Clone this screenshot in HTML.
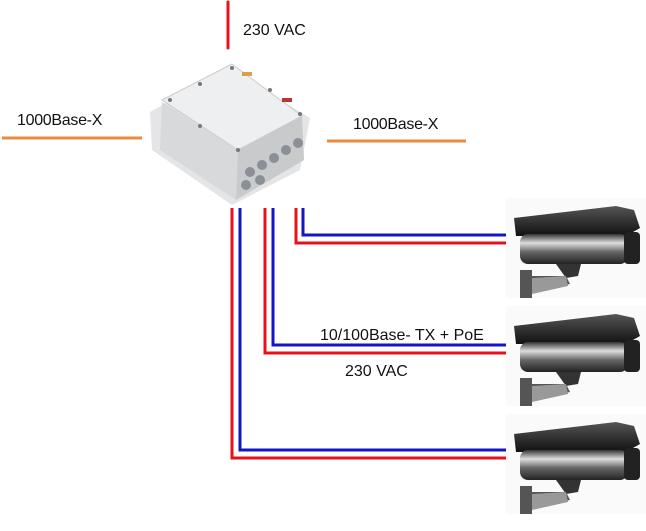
<!DOCTYPE html>
<html><head><style>
body{margin:0;background:#fff;width:646px;height:526px;overflow:hidden}
svg text{font-family:"Liberation Sans",Arial,sans-serif;font-size:16px;fill:#111}
</style></head><body>
<svg width="646" height="526" viewBox="0 0 646 526">
<defs>
<linearGradient id="cyl" x1="0" y1="0" x2="0" y2="1">
<stop offset="0" stop-color="#333"/><stop offset="0.3" stop-color="#ddd"/><stop offset="0.6" stop-color="#666"/><stop offset="1" stop-color="#222"/>
</linearGradient>
<linearGradient id="hood" x1="0" y1="0" x2="0" y2="1">
<stop offset="0" stop-color="#555"/><stop offset="1" stop-color="#111"/>
</linearGradient>
<g id="cam">
<rect x="0" y="0" width="140" height="100" fill="#fafafa"/>
<polygon points="8,20 110,8 128,12 134,30 120,38 10,38" fill="url(#hood)"/>
<rect x="14" y="36" width="108" height="30" rx="8" fill="url(#cyl)"/>
<rect x="118" y="34" width="16" height="32" rx="4" fill="#222"/>
<polygon points="50,66 75,66 72,78 60,80" fill="#333"/>
<polygon points="14,72 26,72 26,78 60,78 64,86 26,94 26,100 14,100" fill="#555"/>
<polygon points="26,80 60,78 62,88 26,96" fill="#999"/>
</g>
</defs>
<line x1="228" y1="2" x2="228" y2="48" stroke="#e8101a" stroke-width="3" stroke-linecap="round"/>
<text x="243" y="35">230 VAC</text>
<line x1="2" y1="138" x2="142" y2="138" stroke="#ec8a3c" stroke-width="3"/>
<line x1="327" y1="141" x2="466" y2="141" stroke="#ec8a3c" stroke-width="3"/>
<text x="17" y="125" letter-spacing="-0.3">1000Base-X</text>
<text x="353" y="129" letter-spacing="-0.3">1000Base-X</text>
<polygon points="150,112 228,68 310,118 300,170 232,205 152,150" fill="#e4e5e7"/>
<polygon points="162,100 232,64 302,116 238,150" fill="#eeeff1" stroke="#ccc"/>
<polygon points="162,102 238,150 236,200 160,150" fill="#d8d9db"/>
<polygon points="238,150 302,116 304,160 236,200" fill="#c9cacc"/>
<g fill="#777">
<circle cx="170" cy="100" r="2"/><circle cx="200" cy="84" r="2"/><circle cx="232" cy="68" r="2"/><circle cx="270" cy="90" r="2"/><circle cx="300" cy="114" r="2"/><circle cx="238" cy="150" r="2"/><circle cx="200" cy="126" r="2"/>
</g>
<g fill="#8a9096">
<circle cx="250" cy="172" r="5"/><circle cx="262" cy="165" r="5"/><circle cx="274" cy="158" r="5"/><circle cx="286" cy="150" r="5"/><circle cx="298" cy="143" r="5"/>
<circle cx="246" cy="185" r="5"/><circle cx="260" cy="180" r="5"/>
</g>
<rect x="242" y="72" width="10" height="4" fill="#d9a24a"/>
<rect x="282" y="98" width="10" height="4" fill="#b33"/>
<g fill="none" stroke-width="3">
<polyline points="296,208 296,243 510,243" stroke="#e8101a"/>
<polyline points="303,208 303,235 510,235" stroke="#1515c8"/>
<polyline points="265,208 265,353 510,353" stroke="#e8101a"/>
<polyline points="273,208 273,345 510,345" stroke="#1515c8"/>
<polyline points="232,208 232,458 510,458" stroke="#e8101a"/>
<polyline points="240,208 240,450 510,450" stroke="#1515c8"/>
</g>
<text x="320" y="340">10/100Base- TX + PoE</text>
<text x="345" y="376">230 VAC</text>
<use href="#cam" x="506" y="198"/>
<use href="#cam" x="506" y="306"/>
<use href="#cam" x="506" y="414"/>
</svg>
</body></html>
